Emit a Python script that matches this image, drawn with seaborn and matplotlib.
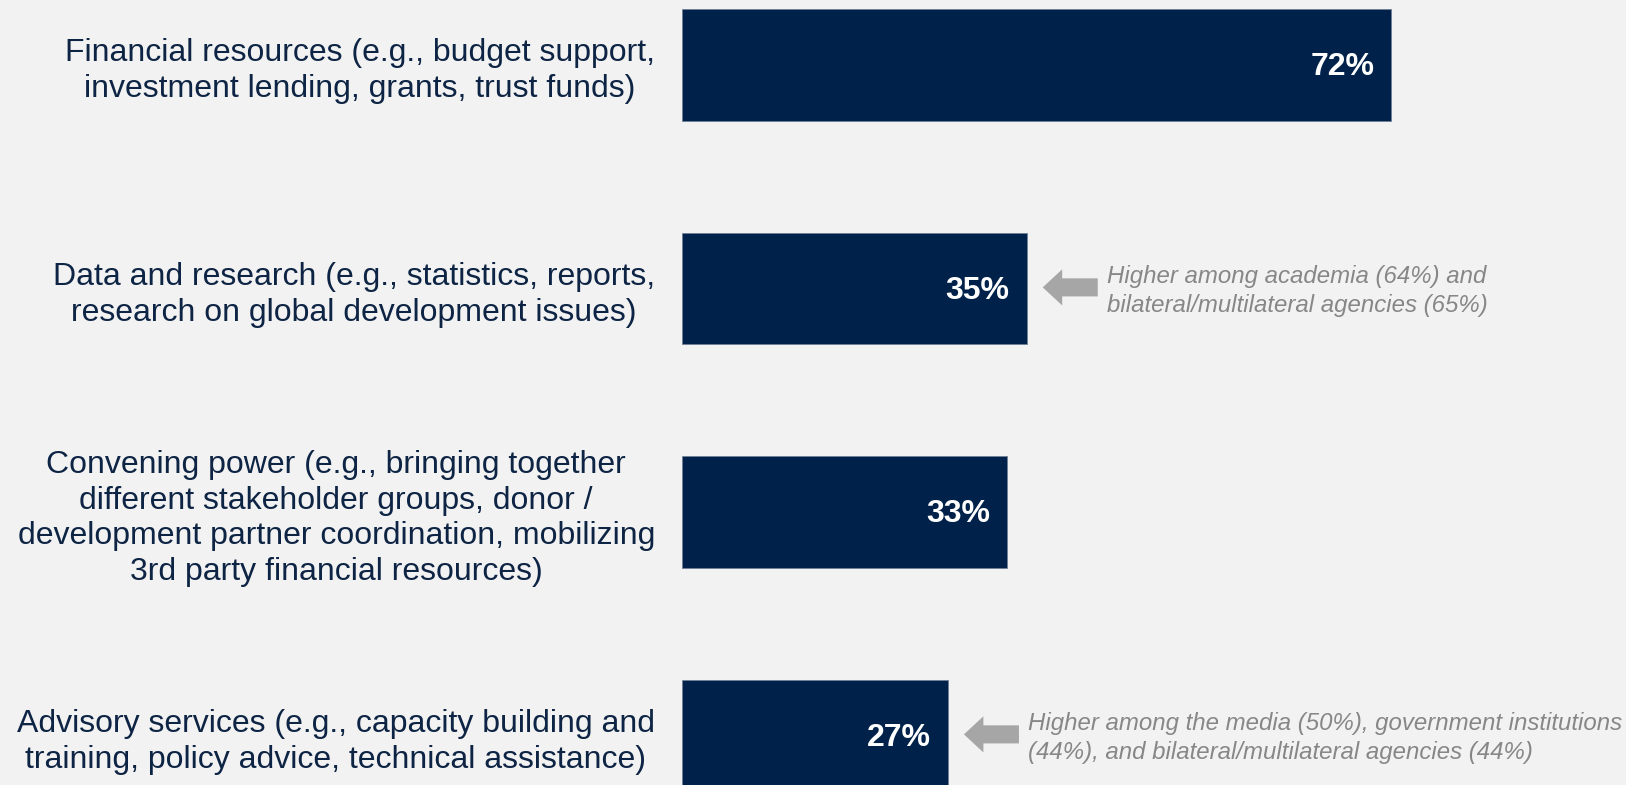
import matplotlib
matplotlib.use("Agg")
import matplotlib.pyplot as plt
import seaborn as sns
import pandas as pd

# Survey results: share of respondents naming each type of support
options = [
    "Financial resources (e.g., budget support,\ninvestment lending, grants, trust funds)",
    "Data and research (e.g., statistics, reports,\nresearch on global development issues)",
    "Convening power (e.g., bringing together\ndifferent stakeholder groups, donor /\ndevelopment partner coordination, mobilizing\n3rd party financial resources)",
    "Advisory services (e.g., capacity building and\ntraining, policy advice, technical assistance)",
]
shares = [72, 35, 33, 27]
value_labels = ["72%", "35%", "33%", "27%"]

# Side notes on subgroup differences (row index, note text)
note_rows = [1, 3]
note_texts = [
    "Higher among academia (64%) and\nbilateral/multilateral agencies (65%)",
    "Higher among the media (50%), government institutions\n(44%), and bilateral/multilateral agencies (44%)",
]

BG = "#f2f2f2"
NAVY = "#00224a"
LABEL = "#0e2444"
NOTE = "#878787"
ARROW = "#a6a6a6"

sns.set_theme(style="white")
plt.rcParams["font.family"] = ["Liberation Sans", "DejaVu Sans"]

W, H, DPI = 1626, 785, 100
fig = plt.figure(figsize=(W / DPI, H / DPI), dpi=DPI, facecolor=BG)

x0_px = 682          # left edge of the bars
px_per_pct = 9.85    # horizontal scale
row_px = 223.5       # vertical spacing between rows
top_px = 65          # centre of first row from the top

ax = fig.add_axes([x0_px / W, 0, 1 - x0_px / W, 1])
ax.set_facecolor(BG)

df = pd.DataFrame({"option": options, "share": shares})
sns.barplot(data=df, x="share", y="option", color=NAVY, saturation=1,
            width=0.5, edgecolor="#6f8096", linewidth=0.6, ax=ax)

ax.set_xlim(0, (W - x0_px) / px_per_pct)
ax.set_ylim(3 + (H - (top_px + 3 * row_px)) / row_px, -top_px / row_px)

for s in ax.spines.values():
    s.set_visible(False)
ax.set_xticks([])
ax.set_xlabel("")
ax.set_ylabel("")
ax.tick_params(axis="y", length=0, pad=19.5)
ax.set_yticks(range(len(options)))
ax.set_yticklabels(options, fontsize=23, color=LABEL, linespacing=1.24)
for lab in ax.get_yticklabels():
    lab.set_multialignment("center")

# Value labels inside the bar ends
inset = 17 / px_per_pct
for i, (v, t) in enumerate(zip(shares, value_labels)):
    ax.text(v - inset, i + 0.01, t, ha="right", va="center", color="white",
            fontsize=23, fontweight="bold")

# Arrows and notes next to selected bars
arrow_gap = 16 / px_per_pct
arrow_len = 55 / px_per_pct
text_gap = 9 / px_per_pct
for r, txt in zip(note_rows, note_texts):
    v = shares[r]
    tip = v + arrow_gap
    tail = tip + arrow_len
    ax.annotate("", xy=(tip, r - 0.005), xytext=(tail, r - 0.005),
                arrowprops=dict(arrowstyle="simple,head_length=1.4,head_width=2.6,tail_width=1.3",
                                mutation_scale=10, fc=ARROW, ec="none",
                                shrinkA=0, shrinkB=0))
    ax.text(tail + text_gap, r + 0.012, txt, ha="left", va="center", color=NOTE,
            fontsize=17.3, fontstyle="italic", linespacing=1.36)

fig.savefig("out.png", dpi=DPI, facecolor=BG)
